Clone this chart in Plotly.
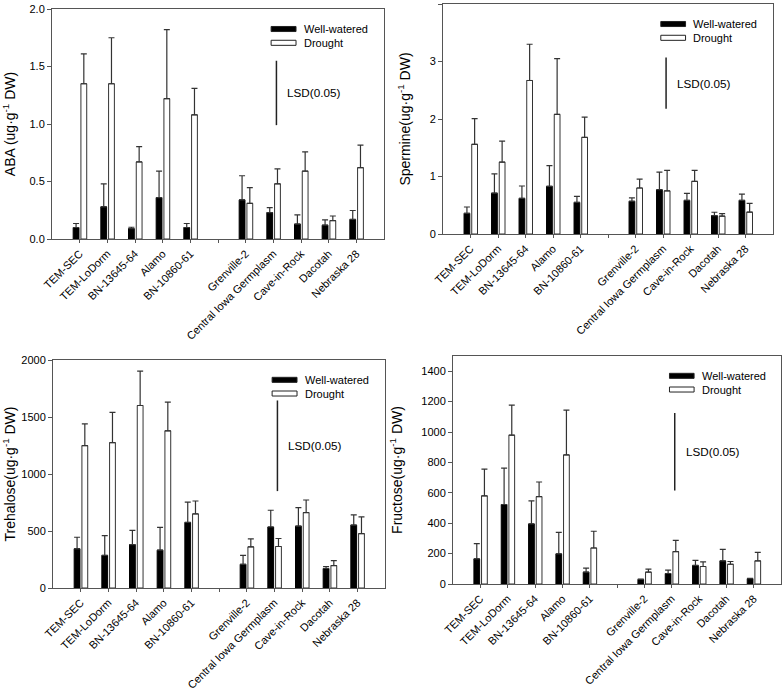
import plotly.graph_objects as go

# ---------------- data ----------------
genotypes = ["TEM-SEC", "TEM-LoDorm", "BN-13645-64", "Alamo", "BN-10860-61",
             "Grenville-2", "Central Iowa Germplasm", "Cave-in-Rock", "Dacotah", "Nebraska 28"]
# category slots (a blank slot separates the two groups)
slots = [0, 1, 2, 3, 4, 6, 7, 8, 9, 10]
tick_slots = list(range(11))
tick_labels = genotypes[:5] + [" "] + genotypes[5:]

aba_ww = [0.10, 0.28, 0.09, 0.36, 0.10, 0.34, 0.23, 0.13, 0.12, 0.17]
aba_ww_err = [0.035, 0.20, 0.012, 0.23, 0.035, 0.21, 0.043, 0.08, 0.046, 0.078]
aba_dr = [1.35, 1.35, 0.67, 1.22, 1.08, 0.31, 0.48, 0.59, 0.16, 0.62]
aba_dr_err = [0.26, 0.40, 0.134, 0.60, 0.23, 0.136, 0.13, 0.168, 0.04, 0.197]

spm_ww = [0.36, 0.71, 0.62, 0.83, 0.55, 0.57, 0.77, 0.585, 0.32, 0.585]
spm_ww_err = [0.11, 0.336, 0.215, 0.36, 0.104, 0.058, 0.307, 0.121, 0.058, 0.11]
spm_dr = [1.56, 1.25, 2.67, 2.08, 1.68, 0.80, 0.75, 0.915, 0.31, 0.38]
spm_dr_err = [0.446, 0.365, 0.63, 0.97, 0.353, 0.156, 0.358, 0.191, 0.046, 0.151]

tre_ww = [344, 286, 381, 332, 575, 208, 535, 543, 171, 552]
tre_ww_err = [101, 174, 125, 200, 179, 78, 147, 162, 17, 90]
tre_dr = [1249, 1275, 1601, 1379, 650, 361, 364, 662, 197, 477]
tre_dr_err = [190, 265, 301, 251, 113, 70, 70, 110, 43, 147]

fru_ww = [165, 523, 395, 198, 78, 30, 69, 122, 152, 35]
fru_ww_err = [100, 239, 152, 141, 26, 3, 22, 34, 76, 2]
fru_dr = [580, 979, 575, 849, 237, 78, 213, 115, 130, 152]
fru_dr_err = [176, 198, 96, 295, 110, 20, 74, 30, 18, 56]

lsd_values = [0.56, 0.89, 795, 510]

y_titles = ["ABA (ug·g<sup>-1</sup> DW)", "Spermine(ug·g<sup>-1</sup> DW)",
            "Trehalose(ug·g<sup>-1</sup> DW)", "Fructose(ug·g<sup>-1</sup> DW)"]

# ---------------- layout settings ----------------
W, H = 784, 690
panels = [
    # (x0, x1, ytop, ybottom) in pixels
    (52, 384, 9, 239),
    (443, 773, 4, 234),
    (53, 385, 360, 588),
    (453, 781, 356, 584),
]
y_ranges = [[0, 2.0], [0, 4], [0, 2000], [0, 1500]]
y_dticks = [0.5, 1, 500, 200]
y_formats = [".1f", "d", "d", "d"]
lsd_bases = [0.99, 2.18, 850, 615]
series = [
    (aba_ww, aba_ww_err, aba_dr, aba_dr_err),
    (spm_ww, spm_ww_err, spm_dr, spm_dr_err),
    (tre_ww, tre_ww_err, tre_dr, tre_dr_err),
    (fru_ww, fru_ww_err, fru_dr, fru_dr_err),
]

FONT = "Arial, Liberation Sans, sans-serif"
AX = "#555555"
bar_w = 0.21
off_ww, off_dr = -0.13, 0.15

fig = go.Figure()
shapes, annotations = [], []

for i, (ww, wwe, dr, dre) in enumerate(series):
    n = "" if i == 0 else str(i + 1)
    xa, ya = "x" + n, "y" + n
    fig.add_trace(go.Bar(
        x=[s + off_ww for s in slots], y=ww, width=bar_w, name="Well-watered",
        marker=dict(color="black", line=dict(color="black", width=1)),
        error_y=dict(type="data", symmetric=False, array=wwe, arrayminus=[0] * len(wwe),
                     color="#333333", thickness=1.2, width=3),
        xaxis=xa, yaxis=ya, showlegend=False))
    fig.add_trace(go.Bar(
        x=[s + off_dr for s in slots], y=dr, width=bar_w, name="Drought",
        marker=dict(color="white", line=dict(color="#333333", width=1)),
        error_y=dict(type="data", symmetric=False, array=dre, arrayminus=[0] * len(dre),
                     color="#333333", thickness=1.2, width=3),
        xaxis=xa, yaxis=ya, showlegend=False))

    x0, x1, yt, yb = panels[i]
    axis_common = dict(showline=True, mirror=True, linecolor=AX, linewidth=1,
                       ticks="outside", tickcolor=AX, showgrid=False,
                       zeroline=False, automargin=False)
    fig.layout["xaxis" + n] = dict(
        domain=[x0 / W, x1 / W], anchor=ya, range=[-1, 11], ticklen=3,
        tickmode="array", tickvals=tick_slots, ticktext=tick_labels,
        tickangle=-45, tickfont=dict(size=11, family=FONT, color="black"),
        **axis_common)
    fig.layout["yaxis" + n] = dict(
        domain=[1 - yb / H, 1 - yt / H], anchor=xa, range=y_ranges[i], ticklen=4,
        dtick=y_dticks[i], tick0=0, tickformat=y_formats[i],
        tickfont=dict(size=11, family=FONT, color="black"),
        title=dict(text=y_titles[i], font=dict(size=14, family=FONT, color="black")),
        **axis_common)

    xd, yd = xa + " domain", ya + " domain"
    # legend
    for yc, fill, label in [(0.913, "black", "Well-watered"), (0.853, "white", "Drought")]:
        shapes.append(dict(type="rect", xref=xd, yref=yd, x0=0.660, x1=0.735,
                           y0=yc - 0.011, y1=yc + 0.011, fillcolor=fill,
                           line=dict(color="#222222", width=1)))
        annotations.append(dict(xref=xd, yref=yd, x=0.752, y=yc, text=label,
                                showarrow=False, xanchor="left", yanchor="middle",
                                font=dict(size=11, family=FONT, color="black")))
    # LSD bar
    base = lsd_bases[i]
    shapes.append(dict(type="line", xref=xd, yref=ya, x0=0.676, x1=0.676,
                       y0=base, y1=base + lsd_values[i],
                       line=dict(color="#222222", width=1.5)))
    annotations.append(dict(xref=xd, yref=ya, x=0.703, y=base + lsd_values[i] / 2,
                            text="LSD(0.05)", showarrow=False, xanchor="left",
                            yanchor="middle",
                            font=dict(size=11.7, family=FONT, color="black")))

fig.update_layout(
    width=W, height=H, margin=dict(l=0, r=0, t=0, b=0, autoexpand=False),
    paper_bgcolor="white", plot_bgcolor="white",
    barmode="overlay", showlegend=False,
    font=dict(family=FONT, color="black"),
    shapes=shapes, annotations=annotations,
)

fig.write_html(
    "out.html",
    config={"displayModeBar": False},
    post_script="document.body.style.margin='0';document.body.style.overflow='hidden';",
)
